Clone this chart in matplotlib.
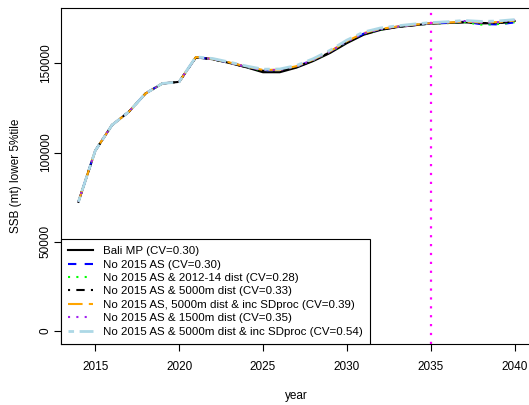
import matplotlib
matplotlib.use("Agg")
import matplotlib.pyplot as plt

years = list(range(2014, 2041))

bali_mp = [72400, 101000, 115400, 122800, 133100, 138700, 139600, 153300, 152300, 150200,
           147800, 145000, 145000, 147600, 151300, 155800, 161300, 166000, 168700, 170300,
           171300, 172300, 172600, 173000, 172400, 172500, 173700]
no2015 = [72400, 101000, 115400, 122800, 133100, 138700, 139600, 153400, 152400, 150400,
          148100, 146100, 146200, 148200, 151900, 156500, 162100, 166600, 169100, 170500,
          171500, 172400, 172700, 173300, 172000, 171800, 172900]
no2015_dist1214 = [72400, 101000, 115400, 122800, 133100, 138700, 139600, 153300, 152300, 150300,
                   148000, 146000, 146100, 148100, 151800, 156300, 162000, 166400, 169000, 170400,
                   171400, 172300, 172500, 173100, 171700, 172000, 173000]
no2015_5000 = [72400, 101000, 115400, 122800, 133100, 138700, 139600, 153300, 152300, 150200,
               147900, 145800, 145900, 147900, 151600, 156200, 161800, 166300, 168900, 170400,
               171400, 172300, 172800, 173000, 172600, 172500, 173500]
no2015_5000_sd = [72400, 101000, 115400, 122800, 133100, 138700, 139600, 153500, 152500, 150500,
                  148200, 146300, 146400, 148400, 152100, 156700, 162400, 166900, 169300, 170600,
                  171600, 172500, 172800, 173400, 172900, 173100, 173900]
no2015_1500 = [72400, 101000, 115400, 122800, 133100, 138700, 139600, 153400, 152400, 150300,
               148100, 146200, 146300, 148300, 152000, 156600, 162200, 166700, 169200, 170500,
               171500, 172400, 172900, 173700, 172800, 173000, 174300]
no2015_5000_sd2 = [72400, 101000, 115400, 122800, 133100, 138700, 139600, 153600, 152700, 150700,
                   148500, 146700, 146800, 148800, 152600, 157300, 163000, 167500, 169800, 171000,
                   172000, 172800, 173300, 174000, 173500, 173700, 174500]

series = [bali_mp, no2015, no2015_dist1214, no2015_5000, no2015_5000_sd, no2015_1500, no2015_5000_sd2]
labels = ["Bali MP (CV=0.30)",
          "No 2015 AS (CV=0.30)",
          "No 2015 AS & 2012-14 dist (CV=0.28)",
          "No 2015 AS & 5000m dist (CV=0.33)",
          "No 2015 AS, 5000m dist & inc SDproc (CV=0.39)",
          "No 2015 AS & 1500m dist (CV=0.35)",
          "No 2015 AS & 5000m dist & inc SDproc (CV=0.54)"]
colors = ["black", "#0000FF", "#00FF00", "black", "#FFA500", "#A020F0", "#ADD8E6"]
styles = ["-", (0, (4, 4)), (0, (1, 3)), (0, (1, 3, 4, 3)), (0, (7, 3)), (0, (1, 3)), (0, (2, 2, 6, 2))]
widths = [1.5, 1.5, 1.5, 1.5, 1.5, 1.5, 2.0]

xticks = [2015, 2020, 2025, 2030, 2035, 2040]
yticks = [0, 50000, 100000, 150000]
vline_year = 2035

plt.rcParams['font.family'] = ['Liberation Sans', 'DejaVu Sans']
fig = plt.figure(figsize=(5.29, 4.05), dpi=100)
ax = fig.add_axes([61/529, (405-344.3)/405, (532-61)/529, (344.3-8)/405])

for s, lab, c, ls, lw in zip(series, labels, colors, styles, widths):
    ax.plot(years, s, color=c, linestyle=ls, linewidth=lw, label=lab)

ax.axvline(vline_year, color="#FF00FF", linestyle=(0, (1, 3)), linewidth=1.6)

ax.set_xlim(2012.96, 2041.04)
ax.set_ylim(-7450, 181000)
ax.set_xticks(xticks)
ax.set_yticks(yticks)
ax.set_yticklabels([str(v) for v in yticks], rotation=90, va="center")
ax.tick_params(axis="both", direction="out", length=5, width=0.8, labelsize=8.5)
ax.tick_params(axis="x", pad=7)
ax.tick_params(axis="y", pad=1.5)
ax.set_xlabel("year", fontsize=8.5, labelpad=12)
ax.set_ylabel("SSB (mt) lower 5%tile", fontsize=8.5, labelpad=13)
for sp in ax.spines.values():
    sp.set_linewidth(0.8)

leg = ax.legend(loc="lower left", bbox_to_anchor=(0, 0), borderaxespad=0, fontsize=8.25,
                frameon=True, fancybox=False, edgecolor="black", framealpha=1,
                handlelength=2.1, labelspacing=0.3, borderpad=0.65, handletextpad=0.9)
leg.get_frame().set_linewidth(0.8)

fig.savefig("out.png", dpi=100)
